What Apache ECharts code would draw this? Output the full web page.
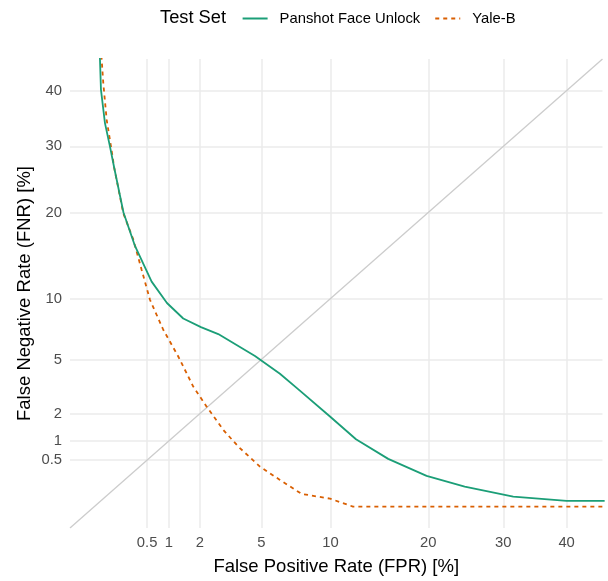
<!DOCTYPE html>
<html>
<head>
<meta charset="utf-8">
<script src="https://cdn.jsdelivr.net/npm/echarts@6/dist/echarts.min.js"></script>
<style>html,body{margin:0;padding:0;background:#fff}#c{width:608px;height:581px}</style>
</head>
<body>
<div id="c"></div>
<script>
// ---- data (values in %) ----
const fprTicks = [0.5, 1, 2, 5, 10, 20, 30, 40];
const fnrTicks = [0.5, 1, 2, 5, 10, 20, 30, 40];
const seriesNames = ['Panshot Face Unlock', 'Yale-B'];
const panshotFPR = [0.0046, 0.008, 0.0205, 0.044, 0.0716, 0.153, 0.297, 0.590, 0.947, 1.419, 2.04, 2.756, 4.63, 6.18, 7.47, 9.96, 12.28, 15.49, 19.8, 24.6, 31.47, 40.0, 46.7];
const panshotFNR = [50.4, 40.2, 34.0, 30.0, 26.5, 20.0, 15.7, 11.7, 9.58, 8.18, 7.45, 6.88, 5.24, 4.08, 3.18, 1.875, 1.05, 0.527, 0.218, 0.0926, 0.0231, 0.0075, 0.0075];
const yaleFPR = [0.0064, 0.0098, 0.0145, 0.0275, 0.050, 0.0716, 0.151, 0.2725, 0.402, 0.556, 0.853, 1.265, 1.756, 2.264, 2.983, 3.717, 4.92, 6.18, 7.71, 9.96, 12.0, 46.7];
const yaleFNR = [50.4, 46.2, 41.5, 34.6, 30.0, 26.5, 19.9, 16.5, 12.97, 9.89, 7.23, 5.21, 3.33, 2.31, 1.362, 0.833, 0.370, 0.165, 0.0373, 0.0148, 0, 0];
const axisRange = [-0.325, 6.805]; // in sqrt space
// ---------------------------

const sq = Math.sqrt;
const toPts = (xs, ys) => xs.map((v, i) => [sq(v), sq(ys[i])]);
const fmt = ticks => v => {
  for (const t of ticks) if (Math.abs(sq(t) - v) < 1e-6) return String(t);
  return '';
};
const FONT = 'Liberation Sans, Arial, sans-serif';
const gridColor = '#EBEBEB';

const chart = echarts.init(document.getElementById('c'), null, {renderer: 'canvas'});
chart.setOption({
  animation: false,
  backgroundColor: '#fff',
  textStyle: {fontFamily: FONT},
  title: {
    text: 'Test Set', left: 160, top: 9, padding: 0,
    textStyle: {fontSize: 18.3, fontWeight: 'normal', color: '#000', fontFamily: FONT}
  },
  legend: {
    left: 241.6, top: 11, padding: 0,
    itemWidth: 25, itemHeight: 14, itemGap: 14,
    data: seriesNames,
    itemStyle: {opacity: 0},
    textStyle: {fontSize: 14.8, color: '#000', fontFamily: FONT, padding: [0, 0, 0, 7]}
  },
  grid: {left: 70, right: 5.5, top: 59, bottom: 53, containLabel: false},
  xAxis: {
    type: 'value', min: axisRange[0], max: axisRange[1],
    name: 'False Positive Rate (FPR) [%]', nameLocation: 'middle', nameGap: 29, nameMoveOverlap: false,
    nameTextStyle: {fontSize: 18.5, color: '#000', fontFamily: FONT},
    axisLine: {show: false},
    axisTick: {show: false, customValues: fprTicks.map(sq)},
    axisLabel: {customValues: fprTicks.map(sq), formatter: fmt(fprTicks), fontSize: 14.8, color: '#4D4D4D', margin: 7, fontFamily: FONT},
    splitLine: {show: true, lineStyle: {color: gridColor, width: 1.5}}
  },
  yAxis: {
    type: 'value', min: axisRange[0], max: axisRange[1],
    name: 'False Negative Rate (FNR) [%]', nameLocation: 'middle', nameGap: 36, nameRotate: 90, nameMoveOverlap: false,
    nameTextStyle: {fontSize: 18.5, color: '#000', fontFamily: FONT},
    axisLine: {show: false},
    axisTick: {show: false, customValues: fnrTicks.map(sq)},
    axisLabel: {customValues: fnrTicks.map(sq), formatter: fmt(fnrTicks), fontSize: 14.8, color: '#4D4D4D', margin: 8, fontFamily: FONT},
    splitLine: {show: true, lineStyle: {color: gridColor, width: 1.5}}
  },
  series: [
    {
      name: 'diag', type: 'line', silent: true, symbol: 'none', z: 1,
      data: [[axisRange[0], axisRange[0]], [axisRange[1], axisRange[1]]],
      lineStyle: {color: '#CCCCCC', width: 1.3}
    },
    {
      name: seriesNames[0], type: 'line', symbol: 'none', z: 3, color: '#1B9E77',
      data: toPts(panshotFPR, panshotFNR),
      lineStyle: {color: '#1B9E77', width: 1.8}
    },
    {
      name: seriesNames[1], type: 'line', symbol: 'none', z: 2, color: '#D95F02',
      data: toPts(yaleFPR, yaleFNR),
      lineStyle: {color: '#D95F02', width: 1.8, type: [4, 4]}
    }
  ]
});
</script>
</body>
</html>
